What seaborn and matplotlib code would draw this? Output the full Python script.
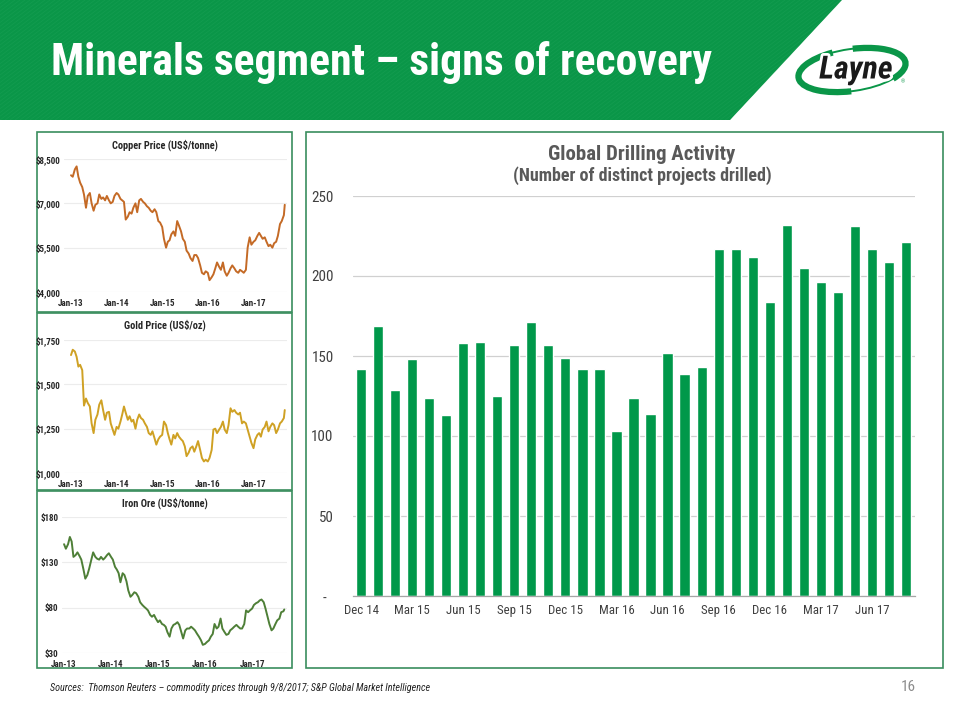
import os
import matplotlib
matplotlib.use('Agg')
import matplotlib.pyplot as plt
import seaborn as sns
import pandas as pd
import numpy as np
from matplotlib.patches import Polygon, Rectangle, Ellipse, Arc
from matplotlib import font_manager as fm
import matplotlib.patheffects as pe

# ---------------- data ----------------
months = ['Dec 14', 'Jan 15', 'Feb 15', 'Mar 15', 'Apr 15', 'May 15', 'Jun 15', 'Jul 15',
          'Aug 15', 'Sep 15', 'Oct 15', 'Nov 15', 'Dec 15', 'Jan 16', 'Feb 16', 'Mar 16',
          'Apr 16', 'May 16', 'Jun 16', 'Jul 16', 'Aug 16', 'Sep 16', 'Oct 16', 'Nov 16',
          'Dec 16', 'Jan 17', 'Feb 17', 'Mar 17', 'Apr 17', 'May 17', 'Jun 17', 'Jul 17',
          'Aug 17']
projects = [142, 169, 129, 148, 124, 113, 158, 159, 125, 157, 171, 157, 149, 142, 142, 103,
            124, 114, 152, 139, 143, 217, 217, 212, 184, 232, 205, 196, 190, 231, 217, 209,
            221]

year_labels = ['Jan-13', 'Jan-14', 'Jan-15', 'Jan-16', 'Jan-17']

copper = [7950, 7900, 8150, 8250, 7900, 7700, 7550, 7300, 6850, 7250,
          7350, 7000, 6750, 6950, 7000, 7300, 7150, 7200, 7100, 7250,
          7100, 7000, 7050, 7250, 7350, 7300, 7150, 7100, 7050, 6450,
          6550, 6700, 6650, 6850, 7000, 6700, 7100, 7150, 7050, 7000,
          6900, 6850, 6750, 6700, 6800, 6700, 6400, 6350, 6200, 5800,
          5500, 5700, 5750, 5950, 6050, 5900, 6400, 6250, 6050, 5800,
          5700, 5400, 5300, 5150, 5050, 5250, 5250, 5150, 4900, 4650,
          4600, 4700, 4650, 4400, 4500, 4600, 4800, 5000, 4850, 4750,
          5000, 4700, 4550, 4650, 4800, 4900, 4800, 4700, 4650, 4750,
          4700, 4650, 4750, 5500, 5850, 5600, 5700, 5750, 5900, 6000,
          5900, 5800, 5850, 5700, 5550, 5600, 5500, 5650, 5700, 5900,
          6300, 6400, 6600, 6950]

gold = [1665, 1695, 1685, 1655, 1600, 1610, 1580, 1380, 1420, 1395,
        1375, 1280, 1225, 1300, 1330, 1385, 1410, 1355, 1300, 1340,
        1345, 1280, 1245, 1215, 1260, 1250, 1290, 1330, 1375, 1340,
        1300, 1320, 1290, 1300, 1250, 1300, 1330, 1310, 1300, 1280,
        1260, 1225, 1215, 1235, 1195, 1160, 1190, 1205, 1215, 1290,
        1270, 1225, 1190, 1160, 1215, 1195, 1225, 1205, 1190, 1180,
        1150, 1095, 1115, 1140, 1150, 1120, 1150, 1180, 1130, 1085,
        1065, 1075, 1065, 1085, 1130, 1245, 1250, 1225, 1245, 1260,
        1290, 1245, 1225, 1270, 1365, 1345, 1355, 1340, 1330, 1340,
        1280, 1290, 1280, 1245, 1205, 1170, 1140, 1190, 1215, 1225,
        1205, 1245, 1260, 1290, 1235, 1260, 1280, 1270, 1225, 1245,
        1280, 1290, 1310, 1355]

iron = [150, 145, 150, 158, 153, 136, 138, 141, 137, 133,
        122, 112, 116, 123, 133, 141, 136, 134, 133, 136,
        133, 135, 138, 140, 136, 133, 125, 122, 118, 108,
        118, 116, 109, 99, 92, 94, 97, 96, 92, 86,
        83, 81, 79, 77, 72, 70, 72, 68, 64, 66,
        62, 61, 59, 53, 48, 57, 61, 62, 64, 61,
        53, 46, 55, 57, 57, 59, 57, 55, 51, 48,
        44, 39, 40, 42, 44, 48, 51, 62, 57, 59,
        68, 57, 53, 50, 51, 55, 57, 59, 61, 59,
        57, 57, 62, 77, 75, 77, 79, 83, 85, 86,
        88, 89, 86, 79, 70, 62, 55, 57, 62, 66,
        68, 75, 76, 78]

dates = pd.date_range('2013-01-01', periods=113, freq='SMS').append(
    pd.DatetimeIndex(['2017-09-08']))

# ---------------- style ----------------
sns.set_theme(style='white')
plt.rcParams['font.family'] = ['Liberation Sans', 'DejaVu Sans']

# look for an installed condensed / narrow face
PREF = ['liberationsansnarrow', 'arialnarrow', 'arialn', 'robotocondensed',
        'opensanscondensed', 'opensans_condensed', 'notosans-condensed',
        'notosanscondensed', 'dejavusanscondensed', 'latocondensed']


def _w(f):
    w = f.weight
    if isinstance(w, str):
        w = fm.weight_dict.get(w, 400)
    return w


def find_narrow(bold, italic):
    best = None
    for f in fm.fontManager.ttflist:
        base = os.path.basename(f.fname).lower().replace(' ', '')
        if not ('narrow' in base or 'condensed' in base):
            continue
        if any(b in base for b in ['semi', 'extra', 'ultra', 'mono', 'serif']):
            continue
        isb = _w(f) >= 600
        isi = f.style in ('italic', 'oblique') or 'italic' in base
        if isb != bold or isi != italic:
            if not (bold and _w(f) in (600, 700) and isi == italic):
                continue
        if bold and _w(f) > 700:
            continue
        rank = len(PREF)
        for i, p in enumerate(PREF):
            if p in base:
                rank = i
                break
        if best is None or rank < best[0]:
            best = (rank, f.fname)
    return best[1] if best else None


NF = {(b, i): find_narrow(b, i) for b in (False, True) for i in (False, True)}


def fkw(size, bold=False, italic=False):
    path = NF.get((bold, italic))
    if path is None and italic:
        path = NF.get((bold, False))
    if path:
        return dict(fontproperties=fm.FontProperties(fname=path, size=size))
    return dict(family='Liberation Sans', fontweight='bold' if bold else 'normal',
                fontstyle='italic' if italic else 'normal', fontsize=size * 0.84)


def style_labels(labels, size, bold=False, color=None):
    kw = fkw(size, bold)
    for lab in labels:
        if 'fontproperties' in kw:
            lab.set_fontproperties(kw['fontproperties'])
        else:
            lab.set_family(kw['family'])
            lab.set_fontweight(kw['fontweight'])
            lab.set_fontsize(kw['fontsize'])
        if color:
            lab.set_color(color)


GREEN_HDR = '#0a9648'
BAR = '#00984a'
BOX = '#3a8d5d'

W, H = 960, 720
fig = plt.figure(figsize=(9.6, 7.2), dpi=100, facecolor='white')


def rect(x0, y0, x1, y1):
    return [x0 / W, 1 - y1 / H, (x1 - x0) / W, (y1 - y0) / H]


bg = fig.add_axes([0, 0, 1, 1], zorder=0)
bg.set_xlim(0, W)
bg.set_ylim(H, 0)
bg.axis('off')

# header band
hdr = Polygon([(0, 0), (842, 0), (730, 120), (0, 120)], closed=True,
              fc=GREEN_HDR, ec='none')
bg.add_patch(hdr)
for k in range(-200, 900, 5):
    ln, = bg.plot([k, k + 160], [120, 0], color='#1ca157', lw=0.6, alpha=0.5)
    ln.set_clip_path(hdr)

bg.text(51, 62, 'Minerals segment \u2013 signs of recovery', color='white',
        ha='left', va='center', **fkw(31.5, bold=True))

# logo
bg.add_patch(Ellipse((852, 70), 108, 42, angle=-8, fill=False, ec=GREEN_HDR, lw=1.4))
bg.add_patch(Arc((852, 70), 108, 42, angle=-8, theta1=100, theta2=230, ec=GREEN_HDR, lw=4.5))
bg.add_patch(Arc((852, 70), 108, 42, angle=-8, theta1=280, theta2=20, ec=GREEN_HDR, lw=4.5))
bg.text(856, 70, 'Layne', color='#1a1a1a', ha='center', va='center',
        path_effects=[pe.withStroke(linewidth=4, foreground='white')],
        **fkw(23, bold=True, italic=True))
bg.text(903, 82, '\u00ae', fontsize=4, color=GREEN_HDR, ha='center', va='center')

# boxes
for (x0, y0, x1, y1) in [(37, 132, 292, 312), (37, 313, 292, 490),
                         (37, 491, 292, 668), (306, 132, 943, 668)]:
    bg.add_patch(Rectangle((x0, y0), x1 - x0, y1 - y0, fill=False, ec=BOX, lw=1.2))

# footer
bg.text(50, 688, 'Sources:  Thomson Reuters \u2013 commodity prices through 9/8/2017; '
        'S&P Global Market Intelligence', color='#222222', ha='left', va='center',
        **fkw(7.3, italic=True))
bg.text(916, 687, '16', color='#8c8c8c', ha='right', va='center', **fkw(11))


# ---------------- line panels ----------------
def line_panel(px, vals, color, yticks, ylabels, xlim, title, title_xy):
    ax = fig.add_axes(rect(*px), zorder=2)
    ax.set_facecolor('none')
    sns.lineplot(x=dates, y=vals, color=color, lw=1.4, ax=ax)
    ax.set_ylim(yticks[0], yticks[-1])
    ax.set_yticks(yticks)
    ax.set_yticklabels(ylabels)
    ax.set_xlim(pd.Timestamp(xlim[0]), pd.Timestamp(xlim[1]))
    ax.set_xticks([pd.Timestamp(f'{y}-01-01') for y in range(2013, 2018)])
    ax.set_xticklabels(year_labels)
    ax.grid(axis='y', color='#ececec', lw=0.8)
    ax.set_axisbelow(True)
    for s in ax.spines.values():
        s.set_visible(False)
    ax.tick_params(axis='both', length=0)
    ax.tick_params(axis='y', pad=2.5)
    ax.tick_params(axis='x', pad=5)
    style_labels(ax.get_xticklabels() + ax.get_yticklabels(), 6.5, bold=True, color='#262626')
    ax.set_xlabel('')
    ax.set_ylabel('')
    bg.text(title_xy[0], title_xy[1], title, color='#262626', ha='center', va='center',
            **fkw(7.5, bold=True))
    return ax


line_panel((64, 159, 287, 292), copper, '#c46a26', [4000, 5500, 7000, 8500],
           ['$4,000', '$5,500', '$7,000', '$8,500'], ('2012-11-06', '2017-09-26'),
           'Copper Price (US$/tonne)', (165, 145))
line_panel((64, 340, 287, 473), gold, '#cfa124', [1000, 1250, 1500, 1750],
           ['$1,000', '$1,250', '$1,500', '$1,750'], ('2012-11-06', '2017-09-26'),
           'Gold Price (US$/oz)', (165, 325))
line_panel((62, 517, 287, 653), iron, '#4e7f37', [30, 80, 130, 180],
           ['$30', '$80', '$130', '$180'], ('2012-12-16', '2017-09-29'),
           'Iron Ore (US$/tonne)', (165, 503))

# ---------------- bar chart ----------------
bax = fig.add_axes(rect(352.5, 196, 914.5, 596), zorder=2)
bax.set_facecolor('none')
sns.barplot(x=months, y=projects, color=BAR, saturation=1, width=0.6, ax=bax)
bax.set_xlim(-0.5, 32.5)
bax.set_ylim(0, 250)
bax.set_yticks([0, 50, 100, 150, 200, 250])
bax.set_yticklabels(['-  ', '50', '100', '150', '200', '250'])
bax.set_xticks(range(0, 33, 3))
bax.set_xticklabels(months[::3])
bax.set_xticks(np.arange(-0.5, 33, 2), minor=True)
bax.grid(axis='y', color='#d0d0d0', lw=0.9)
bax.set_axisbelow(True)
for side in ['top', 'left', 'right']:
    bax.spines[side].set_visible(False)
bax.spines['bottom'].set_color('#a6a6a6')
bax.spines['bottom'].set_linewidth(0.9)
bax.tick_params(axis='y', length=0, pad=13.5)
bax.tick_params(axis='x', which='major', length=0, pad=6)
bax.tick_params(axis='x', which='minor', length=4, width=0.8, color='#a6a6a6', direction='out')
style_labels(bax.get_yticklabels(), 10.8, color='#404040')
style_labels(bax.get_xticklabels(), 9.3, color='#404040')
bax.set_xlabel('')
bax.set_ylabel('')

bg.text(642, 155, 'Global Drilling Activity', color='#595959', ha='center', va='center',
        **fkw(15, bold=True))
bg.text(642, 176, '(Number of distinct projects drilled)', color='#595959',
        ha='center', va='center', **fkw(13, bold=True))

fig.savefig('out.png', dpi=100, facecolor='white')
